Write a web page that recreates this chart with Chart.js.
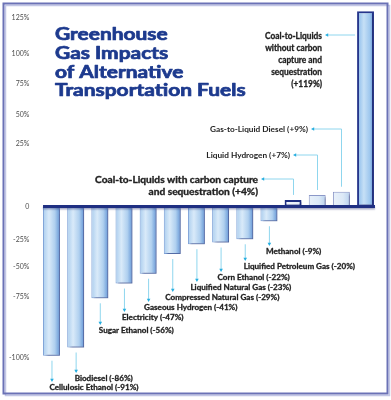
<!DOCTYPE html>
<html><head><meta charset="utf-8">
<script src="https://cdn.jsdelivr.net/npm/chart.js@4/dist/chart.umd.min.js"></script>
<style>html,body{margin:0;padding:0;background:#fff;}#wrap{width:391px;height:400px;}</style>
</head><body><div id="wrap"><canvas id="c" width="391" height="400"></canvas></div>
<script>
// ---- data ----
const categories = ["Cellulosic Ethanol","Biodiesel","Sugar Ethanol","Electricity","Gaseous Hydrogen",
  "Compressed Natural Gas","Liquified Natural Gas","Corn Ethanol","Liquified Petroleum Gas","Methanol",
  "Coal-to-Liquids with carbon capture and sequestration","Liquid Hydrogen","Gas-to-Liquid Diesel",
  "Coal-to-Liquids without carbon capture and sequestration"];
const changePct = [-91,-86,-56,-47,-41,-29,-23,-22,-20,-9,4,7,9,119];
const tickLabels = ["-100%","-75%","-50%","-25%","0","25%","50%","75%","100%","125%"];
// where each tick label sits on the bar scale in the reference (the printed axis is uneven)
const tickLabelValues = [-92,-55,-37,-20,0,38,56,75,93,115];
const titleLines = ["Greenhouse","Gas Impacts","of Alternative","Transportation Fuels"];

// ---- styling / layout ----
const FONT = "Lato";
const navy = "#1f2f82";
function labelText(i){ const v = changePct[i]; return categories[i] + " (" + (v > 0 ? "+" : "") + v + "%)"; }
const lineBreakAfter = {10: ["capture "], 13: ["Liquids ","carbon ","and ","sequestration "]};
function labelLines(i){ let t = labelText(i); (lineBreakAfter[i]||[]).forEach(w=>{ t = t.replace(w, w.trim()+"\n"); }); return t.split("\n"); }

const fillStops = i => {
  const v = changePct[i];
  if (v > 100) return [[0,'#86b8ea'],[0.4,'#c6e0f6'],[0.75,'#9ec7ee'],[1,'#5f93d6']];
  if (v > 0 && v < 5) return [[0,'#f3f7fc'],[1,'#e4edf8']];
  if (v > 0) return [[0,'#e9f1fa'],[0.6,'#dce9f7'],[1,'#b9d2ee']];
  return [[0,'#aacdee'],[0.35,'#d9eaf9'],[0.7,'#b0d0ef'],[1,'#6496d6']];
};
function barFill(ctx){
  const ch = ctx.chart, xs = ch.scales && ch.scales.x, i = ctx.dataIndex;
  if (!xs || !ch.chartArea || typeof i !== 'number') return '#cfe3f5';
  const cx = xs.getPixelForValue(i), half = 8.5;
  const g = ch.ctx.createLinearGradient(cx-half,0,cx+half,0);
  fillStops(i).forEach(s=>g.addColorStop(s[0], s[1]));
  return g;
}
const borderCols = changePct.map((v,i)=> v>100 ? '#26368c' : (v>0 && v<5) ? navy : v>0 ? '#8c98c8' : '#7fa3d8');
const borderWs = changePct.map(v=> v>100 ? 2 : (v>0 && v<5) ? 2 : 1);

// label layout (pixels)
const negLabelY = [387,378,330,317,307,297,287,277,266,251];
const negLabelDx = [-2,-1,-1,-2,-4,-7,-6,-3,-1,-3];
const posLayout = {
  10: {right:258, y:180, lh:11.5, font:"bold 9.5px "+FONT, ref:"Coal-to-Liquids with carbon capture", w:163, sw:0.35},
  11: {right:290, y:156, lh:10, font:"bold 7.5px "+FONT, ref:"Gas-to-Liquid Diesel (+9%)", w:98, sw:0},
  12: {right:308, y:130, lh:10, font:"bold 7.5px "+FONT, ref:"Gas-to-Liquid Diesel (+9%)", w:98, sw:0},
  13: {right:322, y:36, lh:12, font:"bold 8.5px "+FONT, ref:"Coal-to-Liquids", w:57, side:true, sw:0.3}
};
const cyanLine = '#8fd6ee', cyanHead = '#27aee0', textCol = '#222';

function fitText(c, text, x, y, align, font, sx, col, sw){
  c.save(); c.font = font; c.fillStyle = col; c.textAlign = align; c.textBaseline = 'middle';
  c.translate(x, y); c.scale(sx, 1); c.fillText(text, 0, 0);
  if (sw) { c.strokeStyle = col; c.lineWidth = sw; c.lineJoin = 'round'; c.strokeText(text, 0, 0); }
  c.restore();
}
function scaleFor(c, font, ref, w){ c.save(); c.font = font; const m = c.measureText(ref).width; c.restore(); return w / m; }
function headDown(c,x,y){ c.beginPath(); c.moveTo(x-1.8,y-3.2); c.lineTo(x+1.8,y-3.2); c.lineTo(x,y); c.closePath(); c.fill(); }
function headLeft(c,x,y){ c.beginPath(); c.moveTo(x+3.2,y-1.8); c.lineTo(x+3.2,y+1.8); c.lineTo(x,y); c.closePath(); c.fill(); }

const deco = {
  id: 'deco',
  beforeDraw(chart){
    const c = chart.ctx; c.save();
    c.fillStyle = '#fff'; c.fillRect(0,0,chart.width,chart.height);
    c.strokeStyle = '#c3c7e6'; c.lineWidth = 1.5; c.strokeRect(5.5,5.5,384,390);
    c.strokeStyle = '#6b72b6'; c.lineWidth = 2; c.strokeRect(3.5,3.5,384,390);
    c.restore();
  },
  beforeDatasetsDraw(chart){
    const c = chart.ctx; c.save();
    c.shadowColor = 'rgba(35,45,110,0.5)'; c.shadowOffsetX = 2.5; c.shadowOffsetY = 2; c.shadowBlur = 2;
  },
  afterDatasetsDraw(chart){
    const c = chart.ctx; c.restore();
    const meta = chart.getDatasetMeta(0), bars = meta.data, ys = chart.scales.y;
    const y0 = ys.getPixelForValue(0);
    // zero line
    c.save();
    c.shadowColor = 'rgba(35,45,110,0.4)'; c.shadowOffsetY = 1.5; c.shadowBlur = 1.5;
    c.strokeStyle = navy; c.lineWidth = 3;
    c.beginPath(); c.moveTo(bars[0].x - bars[0].width/2, y0); c.lineTo(bars[13].x + bars[13].width/2 + 1, y0); c.stroke();
    c.restore();
    // negative labels
    const negFont = "bold 8px "+FONT, negSx = scaleFor(c, negFont, labelText(0), 89);
    for (let i=0;i<10;i++){
      const b = bars[i], bottom = b.y, ly = negLabelY[i];
      c.save(); c.strokeStyle = cyanLine; c.lineWidth = 1;
      c.beginPath(); c.moveTo(b.x+0.5, bottom+5); c.lineTo(b.x+0.5, ly-6); c.stroke();
      c.fillStyle = cyanHead; headDown(c, b.x+0.5, ly-5); c.restore();
      fitText(c, labelText(i), b.x + negLabelDx[i], ly, 'left', negFont, negSx, textCol, 0.3);
    }
    // positive labels
    for (let i=10;i<14;i++){
      const L = posLayout[i], b = bars[i], sx = scaleFor(c, L.font, L.ref, L.w);
      const lines = labelLines(i);
      lines.forEach((t,k)=> fitText(c, t, L.right, L.y + k*L.lh, 'right', L.font, sx, textCol, L.sw));
      const ay = L.y - 1.5, ax = L.right + 3;
      c.save(); c.strokeStyle = cyanLine; c.lineWidth = 1; c.beginPath();
      c.moveTo(ax+3, ay+0.5);
      if (L.side){ c.lineTo(b.x - b.width/2 - 2, ay+0.5); }
      else { c.lineTo(Math.round(b.x)+0.5, ay+0.5); c.lineTo(Math.round(b.x)+0.5, b.y - 5); }
      c.stroke(); c.fillStyle = cyanHead; headLeft(c, ax, ay+0.5); c.restore();
    }
    // title
    const tFont = "bold 16.5px "+FONT, tSx = scaleFor(c, tFont, "Transportation", 137);
    titleLines.forEach((t,k)=> fitText(c, t, 55, 35 + k*18.6, 'left', tFont, tSx, '#1d3a8e', 0.7));
  }
};

new Chart(document.getElementById('c').getContext('2d'), {
  type: 'bar',
  data: { labels: categories, datasets: [{
    data: changePct, backgroundColor: barFill, borderColor: borderCols, borderWidth: borderWs,
    borderSkipped: false, barPercentage: 0.7, categoryPercentage: 1
  }]},
  options: {
    responsive: false, animation: false, devicePixelRatio: 1,
    layout: { padding: { left: 3, right: 13.4, top: 1.5, bottom: 19.7 } },
    plugins: { legend: { display: false }, tooltip: { enabled: false } },
    scales: {
      x: { display: false },
      y: { min: -106, max: 125, grid: { display: false, drawTicks: false }, border: { display: false },
        afterBuildTicks: s => { s.ticks = tickLabelValues.map(v => ({ value: v })); },
        afterFit: s => { s.width = 36.4; s.paddingTop = 0; s.paddingBottom = 0; },
        ticks: { autoSkip: false, padding: 10, color: '#4d4d4d', font: { family: FONT, size: 7 },
          callback: (v, i) => tickLabels[i] } }
    }
  },
  plugins: [deco]
});
</script></body></html>
